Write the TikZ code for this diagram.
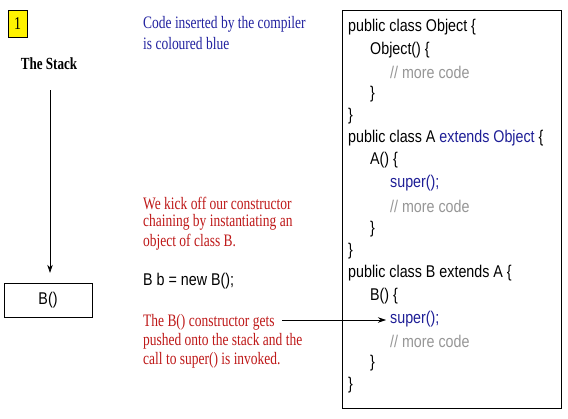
\documentclass[tikz,border=0pt]{standalone}
\usepackage{fontspec}
\setmainfont{Liberation Serif}
\newfontfamily\notefont[FakeStretch=0.77]{Liberation Serif}
\newfontfamily\codefont[FakeStretch=0.84]{Liberation Sans}
\usetikzlibrary{arrows.meta}
\definecolor{noteblue}{RGB}{35,35,160}
\definecolor{notered}{RGB}{190,25,25}
\definecolor{codeblue}{RGB}{30,30,150}
\definecolor{codegray}{RGB}{150,150,150}
\begin{document}
\begin{tikzpicture}[x=1pt,y=-1pt,
  note/.style={anchor=west,inner sep=0pt,font=\notefont\fontsize{17.5}{19}\selectfont,align=left},
  codeline/.style={anchor=west,inner sep=0pt,font=\codefont\fontsize{17}{19}\selectfont},
  arr/.style={-{Stealth[length=8pt,width=5.5pt]},line width=0.6pt}]
\useasboundingbox (0,0) rectangle (568,418);
\node[draw,fill=yellow,minimum width=19pt,minimum height=27pt,inner sep=0pt,font=\notefont\fontsize{18}{20}\selectfont] (num) at (17.5,23.5) {1};
\node[font=\notefont\bfseries\fontsize{17}{19}\selectfont] (stack) at (49,64) {The Stack};
\node[draw,minimum width=88pt,minimum height=34pt,inner sep=0pt,font=\codefont\fontsize{17}{19}\selectfont] (b) at (48,300) {B()};
\coordinate (top) at (50,90);
\draw[arr,shorten >=10pt] (top) -- (b.north -| top);
\node[note,text=noteblue] (n1) at (143,24) {Code inserted by the compiler};
\node[note,text=noteblue] (n2) at (143,44) {is coloured blue};
\node[note,text=notered] (r1) at (143,203) {We kick off our constructor};
\node[note,text=notered] (r2) at (143,222) {chaining by instantiating an};
\node[note,text=notered] (r3) at (143,242) {object of class B.};
\node[codeline] (bb) at (143,281) {B b = new B();};
\node[note,text=notered] (r4) at (143,322) {The B() constructor gets};
\node[note,text=notered] (r5) at (143,341) {pushed onto the stack and the};
\node[note,text=notered] (r6) at (143,360) {call to super() is invoked.};
\draw (342,10) rectangle (561,408);
\node[codeline] (c1) at (348,27) {public class Object \{};
\node[codeline] (c2) at (370,50) {Object() \{};
\node[codeline,text=codegray] (c3) at (390,72) {// more code};
\node[codeline] (c4) at (370,94) {\}};
\node[codeline] (c5) at (348,116) {\}};
\node[codeline] (c6) at (348,138) {public class A \textcolor{codeblue}{extends Object} \{};
\node[codeline] (c7) at (370,160) {A() \{};
\node[codeline,text=codeblue] (c8) at (390,183) {super();};
\node[codeline,text=codegray] (c9) at (390,206) {// more code};
\node[codeline] (c10) at (370,229) {\}};
\node[codeline] (c11) at (348,251) {\}};
\node[codeline] (c12) at (348,273) {public class B extends A \{};
\node[codeline] (c13) at (370,296) {B() \{};
\node[codeline,text=codeblue] (c14) at (390,319) {super();};
\node[codeline,text=codegray] (c15) at (390,341) {// more code};
\node[codeline] (c16) at (370,363) {\}};
\node[codeline] (c17) at (348,385) {\}};
\coordinate (from) at (282,320);
\draw[arr] (from) -- ([xshift=-4pt]c14.west |- from);
\end{tikzpicture}
\end{document}
